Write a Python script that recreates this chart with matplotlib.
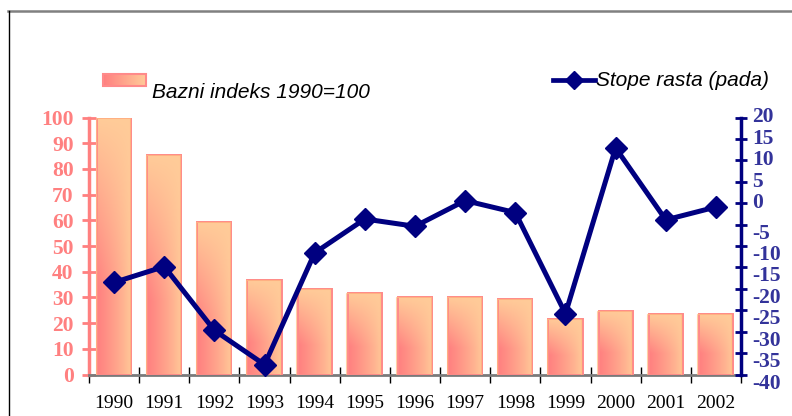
import numpy as np
import matplotlib
matplotlib.use("Agg")
import matplotlib.pyplot as plt
from matplotlib.lines import Line2D
from matplotlib.patches import Rectangle

years = ["1990", "1991", "1992", "1993", "1994", "1995", "1996",
         "1997", "1998", "1999", "2000", "2001", "2002"]
base_index = [100, 85.3, 59.4, 36.7, 33.1, 31.9, 30.0, 30.0, 29.3, 21.5, 24.7, 23.5, 23.5]
growth_rates = [-18.5, -14.8, -29.7, -37.7, -11.6, -3.7, -5.4, 0.6, -2.2, -25.8, 12.9, -3.9, -0.9]
left_ticks = list(range(0, 101, 10))
right_ticks = list(range(-40, 21, 5))
bar_label = "Bazni indeks 1990=100"
line_label = "Stope rasta (pada)"

PINK = np.array([255, 128, 128]) / 255
PEACH = np.array([255, 204, 153]) / 255
NAVY = "#000080"
RLABEL = "#33339A"
SERIF = ["Liberation Serif", "DejaVu Serif"]
SANS = ["Liberation Sans", "DejaVu Sans"]


def gradient(nx=40, ny=80):
    xf = np.linspace(0, 1, nx)[None, :]
    yf = np.linspace(1, 0, ny)[:, None]  # row 0 = top
    p = (1 - xf) ** 0.8 * np.clip((1 - yf) * 1.5, 0, 1)
    img = PEACH[None, None, :] + p[:, :, None] * (PINK - PEACH)[None, None, :]
    return img


W, H = 792, 416
fig = plt.figure(figsize=(W / 100, H / 100), dpi=100)
fig.patch.set_facecolor("white")

left, right, bottom, top = 89, 741, 374.5, 117.5
ax = fig.add_axes([left / W, 1 - bottom / H, (right - left) / W, (bottom - top) / H])
ax.set_facecolor("none")

x = np.arange(len(years))
bw = 0.68
grad = gradient()
for xi, v in zip(x, base_index):
    ax.imshow(grad, extent=(xi - bw / 2, xi + bw / 2, 0, v), aspect="auto",
              zorder=2, interpolation="bilinear")
ax.bar(x, base_index, width=bw, fill=False, edgecolor="#FF8A8A", linewidth=1.4, zorder=3)
ax.bar(x - 0.03, base_index, width=bw, fill=False, edgecolor="#FFC080", linewidth=0.8,
       zorder=3, alpha=0.7)

ax.set_xlim(-0.5, len(years) - 0.5)
ax.set_ylim(0, 100)
ax.set_yticks(left_ticks)
ax.set_yticklabels([str(t) for t in left_ticks], fontfamily=SERIF, fontweight="bold",
                   fontsize=15.5, color="#FF8080")
ax.tick_params(axis="y", direction="inout", length=10, width=2, color="#FF8080", pad=6)
ax.set_xticks(x)
ax.set_xticklabels(years, fontfamily=SERIF, fontsize=14, color="black")
ax.set_xticks(np.arange(len(years) + 1) - 0.5, minor=True)
ax.tick_params(axis="x", which="major", length=0, pad=15)
ax.tick_params(axis="x", which="minor", direction="inout", length=12, width=1, color="black")
for s in ["top", "right"]:
    ax.spines[s].set_visible(False)
ax.spines["left"].set_color("#FF8080")
ax.spines["left"].set_linewidth(2.5)
ax.spines["bottom"].set_color("#7A7A7A")
ax.spines["bottom"].set_linewidth(2)

ax2 = ax.twinx()
ax2.plot(x, growth_rates, color=NAVY, linewidth=3.6, marker="D", markersize=11,
         markerfacecolor=NAVY, markeredgecolor=NAVY, zorder=5, clip_on=False)
ax2.set_ylim(-40, 20)
ax2.set_yticks(right_ticks)
ax2.set_yticklabels([])
ax2.tick_params(axis="y", direction="inout", length=8, width=2, color=NAVY)
for s in ["top", "left", "bottom"]:
    ax2.spines[s].set_visible(False)
ax2.spines["right"].set_color(NAVY)
ax2.spines["right"].set_linewidth(2.5)
for t in right_ticks:
    ax2.annotate(str(t), xy=(1, t), xycoords=ax2.get_yaxis_transform(),
                 xytext=(8, -6.5 if t < 0 else 0), textcoords="offset points",
                 ha="left", va="center", fontfamily=SERIF, fontweight="bold",
                 fontsize=15.5, color=RLABEL, annotation_clip=False)

# Outer frame
fig.add_artist(Line2D([8 / W, 1], [1 - 10.5 / H, 1 - 10.5 / H], transform=fig.transFigure,
                      color="#808080", linewidth=1.8))
fig.add_artist(Line2D([8.5 / W, 8.5 / W], [0, 1 - 10.5 / H], transform=fig.transFigure,
                      color="black", linewidth=1))

# Legend: bar series
lax = fig.add_axes([103 / W, 1 - 86 / H, 43 / W, 12 / H])
swatch = (PEACH + np.linspace(1, 0, 40)[:, None] * (PINK - PEACH))[None, :, :]
lax.imshow(swatch, aspect="auto", extent=(0, 1, 0, 1))
lax.add_patch(Rectangle((0, 0), 1, 1, fill=False, edgecolor="#FF8A8A", linewidth=1.5,
                        transform=lax.transAxes, clip_on=False))
lax.set_xlim(0, 1)
lax.set_ylim(0, 1)
lax.axis("off")
fig.text(152 / W, 1 - 93 / H, bar_label, fontfamily=SANS, fontstyle="italic",
         fontsize=15, ha="left", va="center", color="black")

# Legend: line series
fig.add_artist(Line2D([553 / W, 595 / W], [1 - 80 / H, 1 - 80 / H], transform=fig.transFigure,
                      color=NAVY, linewidth=3.4))
fig.add_artist(Line2D([574 / W], [1 - 80 / H], transform=fig.transFigure, color=NAVY,
                      marker="D", markersize=9, linestyle="none"))
fig.text(596 / W, 1 - 81 / H, line_label, fontfamily=SANS, fontstyle="italic",
         fontsize=15, ha="left", va="center", color="black")

fig.savefig("out.png", dpi=100, facecolor="white")
